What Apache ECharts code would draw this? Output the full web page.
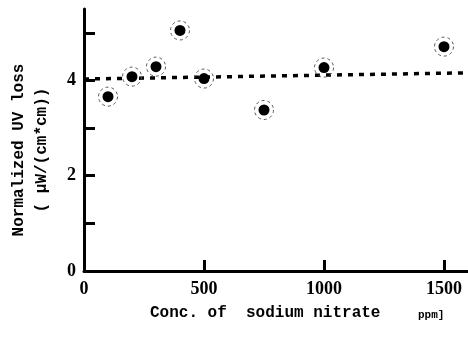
<!DOCTYPE html>
<html>
<head>
<meta charset="utf-8">
<script src="https://cdn.jsdelivr.net/npm/echarts@6/dist/echarts.min.js"></script>
<style>
  html, body { margin: 0; padding: 0; background: #fff; }
  #chart { width: 468px; height: 337px; }
</style>
</head>
<body>
<div id="chart"></div>
<script>
// measured points (conc. ppm, normalized UV loss)
const conc = [100, 200, 300, 400, 500, 750, 1000, 1500]
const uvLoss = [3.66, 4.08, 4.29, 5.05, 4.04, 3.38, 4.27, 4.71]
// fitted trend line end points
const fitX = [0, 1600]
const fitY = [4.03, 4.16]
const yTicks = [0, 2, 4]

const points = conc.map((c, i) => [c, uvLoss[i]])
const fit = fitX.map((x, i) => [x, fitY[i]])

const chart = echarts.init(document.getElementById("chart"))
const monoFont = "'Liberation Mono', monospace"
const numFont = "'Liberation Serif', serif"

chart.setOption({
  animation: false,
  backgroundColor: "#fff",
  grid: { left: 84, right: 0, top: 9, bottom: 66 },
  xAxis: {
    type: "value",
    min: 0,
    max: 1600,
    interval: 500,
    splitLine: { show: false },
    axisLine: { onZero: false, lineStyle: { color: "#000", width: 3 } },
    axisTick: { inside: true, length: 11, lineStyle: { color: "#000", width: 3 } },
    axisLabel: {
      showMaxLabel: false,
      margin: 9,
      color: "#000",
      fontFamily: numFont,
      fontWeight: "bold",
      fontSize: 18,
      formatter: (v) => String(v),
    },
  },
  yAxis: {
    type: "value",
    min: 0,
    max: 5.5,
    interval: 1,
    splitLine: { show: false },
    axisLine: { onZero: false, lineStyle: { color: "#000", width: 3 } },
    axisTick: { inside: true, length: 11, lineStyle: { color: "#000", width: 3 } },
    axisLabel: {
      showMaxLabel: false,
      margin: 8,
      color: "#000",
      fontFamily: numFont,
      fontWeight: "bold",
      fontSize: 18,
      formatter: (v) => (yTicks.includes(v) ? String(v) : ""),
    },
  },
  graphic: [
    {
      type: "text",
      left: 150,
      top: 305,
      style: {
        text: "Conc. of  sodium nitrate",
        fill: "#000",
        font: "bold 16px " + monoFont,
      },
    },
    {
      type: "text",
      left: 418,
      top: 310,
      style: { text: "ppm]", fill: "#000", font: "bold 11px " + monoFont },
    },
    {
      type: "text",
      x: 19,
      y: 150,
      rotation: Math.PI / 2,
      style: {
        text: "Normalized UV loss",
        fill: "#000",
        font: "bold 16px " + monoFont,
        align: "center",
        verticalAlign: "middle",
      },
    },
    {
      type: "text",
      x: 42,
      y: 150,
      rotation: Math.PI / 2,
      style: {
        text: "( μW/(cm*cm))",
        fill: "#000",
        font: "bold 16px " + monoFont,
        align: "center",
        verticalAlign: "middle",
      },
    },
  ],
  series: [
    {
      type: "line",
      data: fit,
      symbol: "none",
      lineStyle: { color: "#000", width: 3.5, type: [5, 6] },
      z: 1,
    },
    {
      type: "scatter",
      data: points,
      symbol: "circle",
      symbolSize: 19,
      itemStyle: {
        color: "transparent",
        borderColor: "#555",
        borderWidth: 1,
        borderType: [3, 3],
        opacity: 1,
      },
      z: 2,
    },
    {
      type: "scatter",
      data: points,
      symbol: "circle",
      symbolSize: 11,
      itemStyle: { color: "#000", opacity: 1 },
      z: 3,
    },
  ],
})
</script>
</body>
</html>
